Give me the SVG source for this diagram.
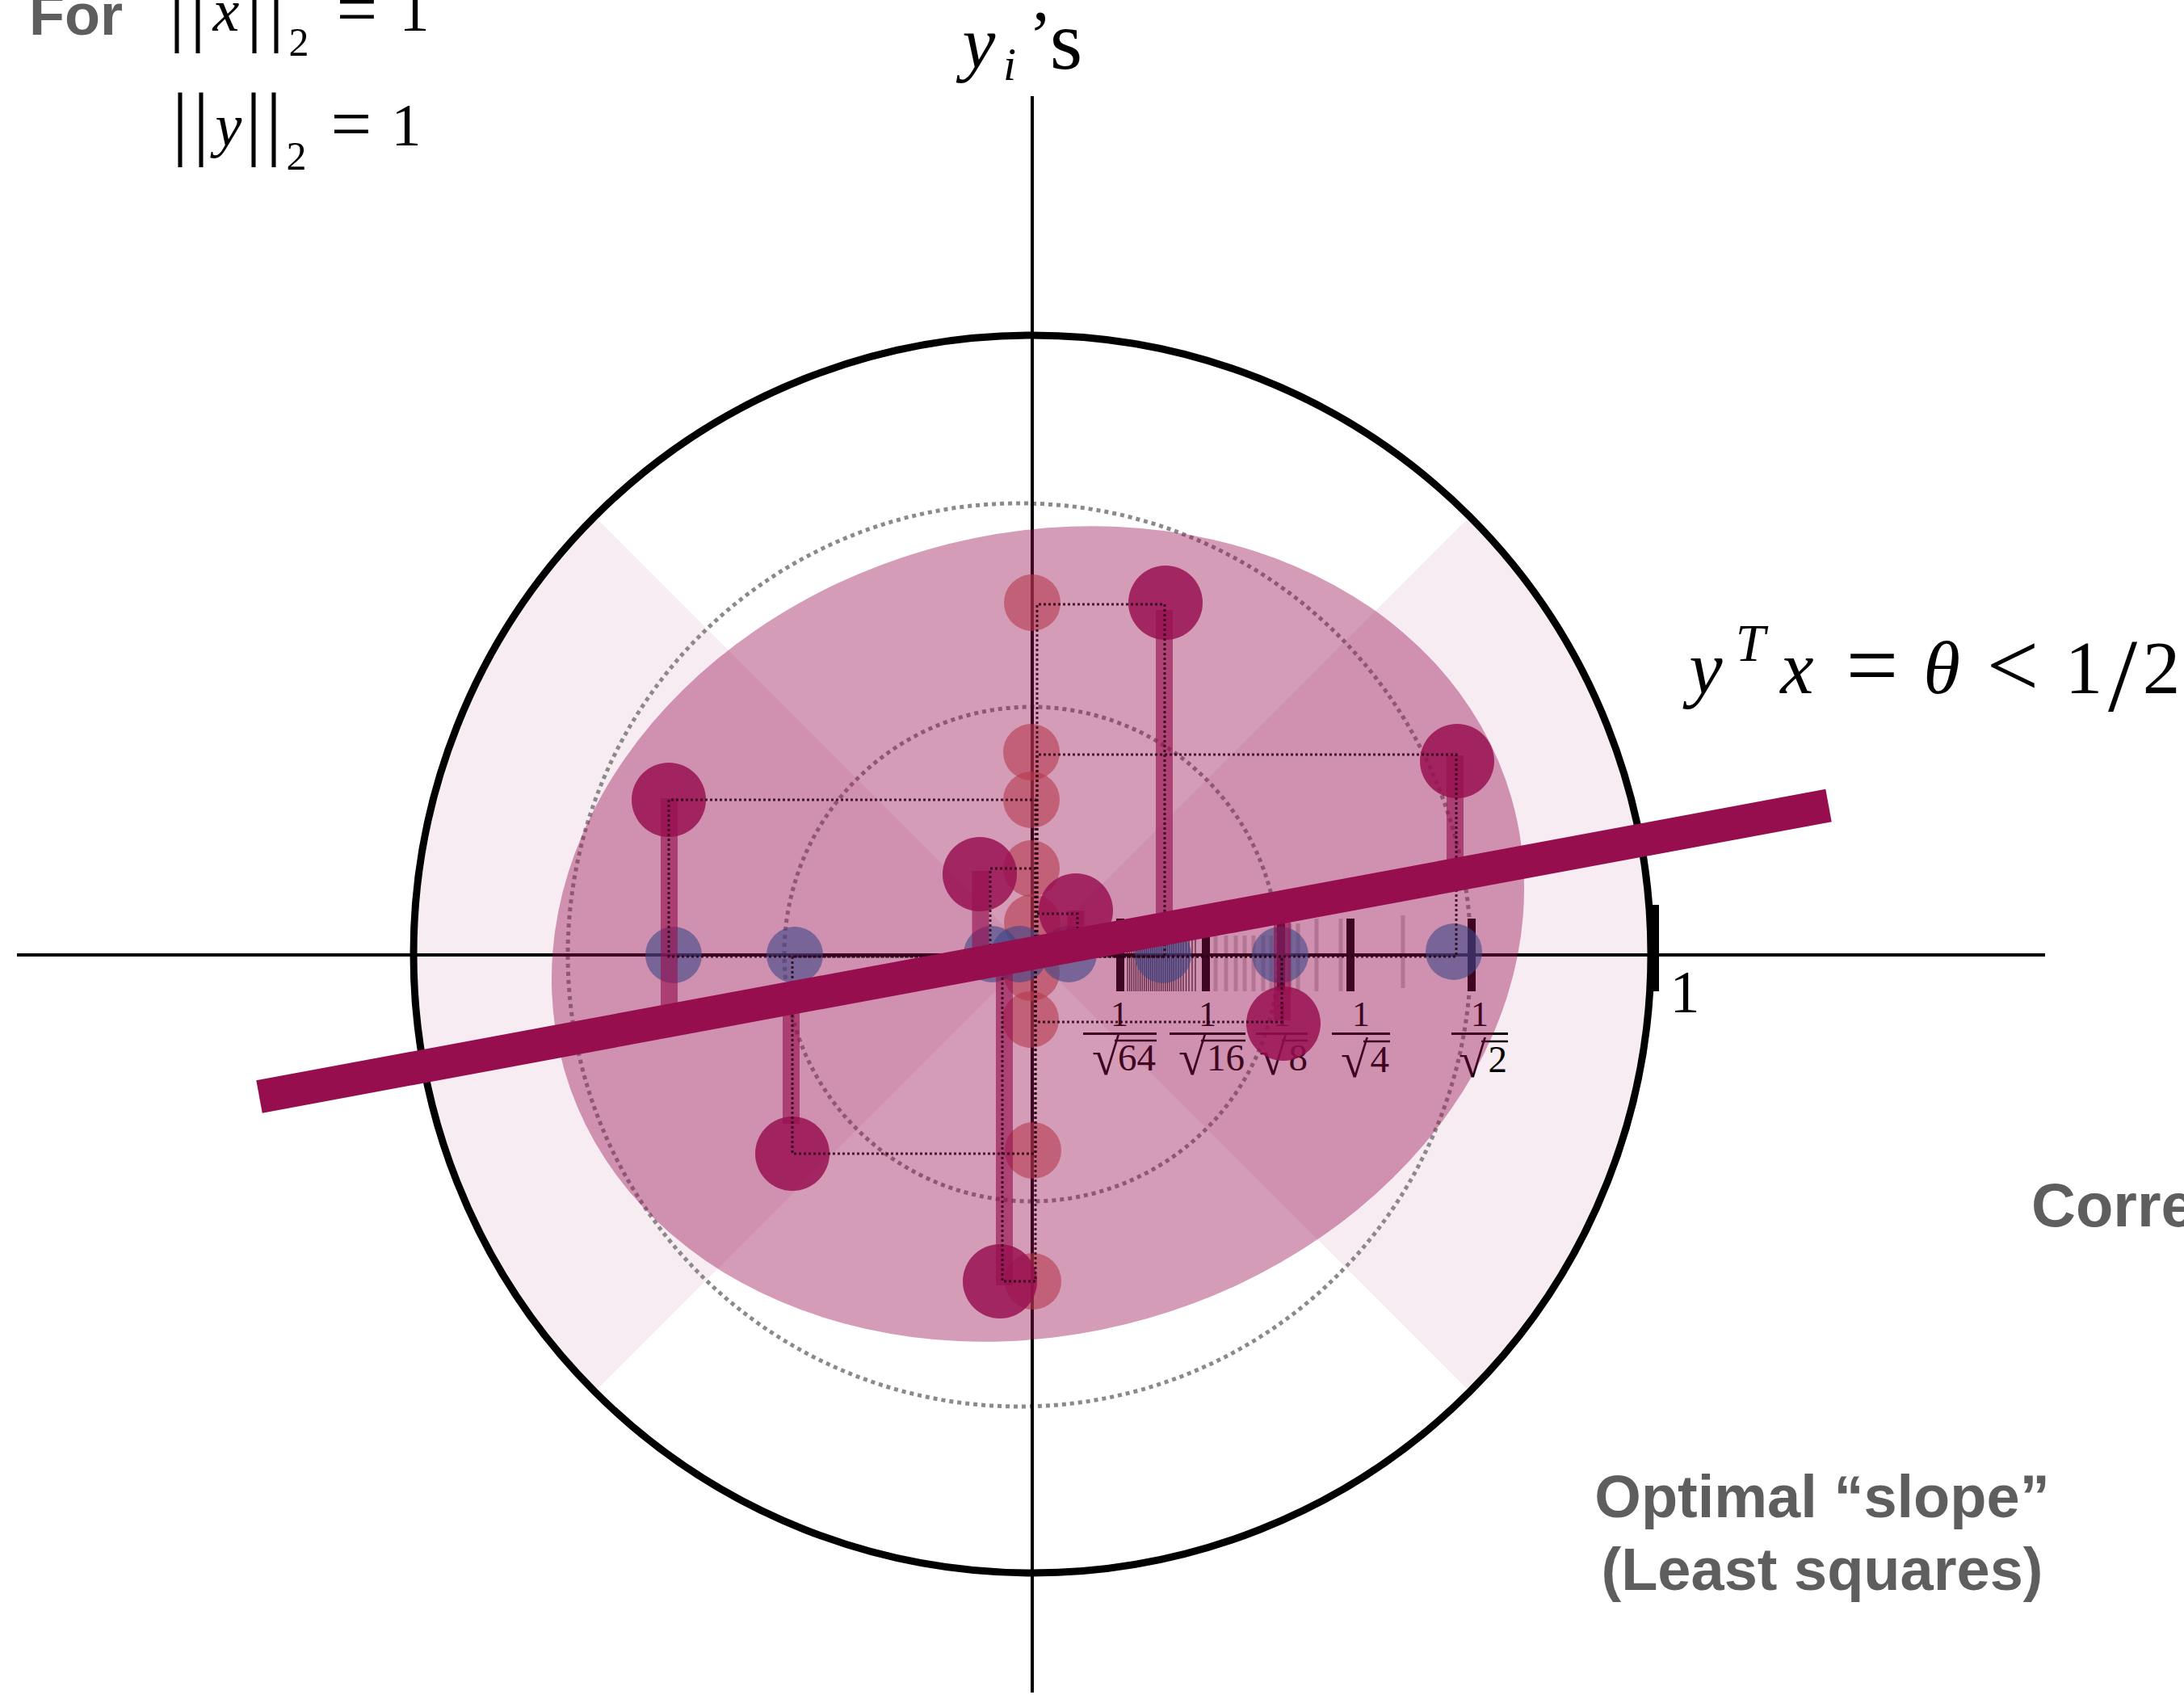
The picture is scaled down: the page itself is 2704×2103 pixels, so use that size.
<svg xmlns="http://www.w3.org/2000/svg" width="2704" height="2103" viewBox="0 0 2704 2103">
<defs>
<style>
.gray{font-family:"Liberation Sans",Arial,sans-serif;font-weight:bold;fill:#5e5e5e}
.m{font-family:"Liberation Serif","DejaVu Serif",serif;fill:#000}
.mi{font-family:"Liberation Serif","DejaVu Serif",serif;font-style:italic;fill:#000}
.ax{stroke:#000;stroke-width:4;fill:none}
.tk{stroke:#000;stroke-width:10}
.ftk{stroke:#000;stroke-width:5;stroke-opacity:0.2}
.thin{stroke:#000;stroke-width:1.3;stroke-opacity:0.8}
.dc{fill:none;stroke:#8a8a8a;stroke-width:5;stroke-dasharray:5 5}
.dr{fill:none;stroke:#2a0014;stroke-width:3;stroke-dasharray:3 3;stroke-opacity:0.85}
.red{fill:#b4384b;fill-opacity:0.6}
.blue{fill:#3e4687;fill-opacity:0.6}
.pt{fill:#970E4F;fill-opacity:0.83}
.stem{stroke:#970E4F;stroke-opacity:0.63;stroke-width:21}
.fr{font-family:"Liberation Serif","DejaVu Serif",serif;font-size:44px;fill:#000}
.dn{font-family:"Liberation Serif","DejaVu Serif",serif;font-size:47px;fill:#000}
.rad{font-family:"Liberation Serif","DejaVu Serif",serif;font-size:62px;fill:#000}
</style>
</defs>
<rect width="2704" height="2103" fill="#fff"/>

<g id="bowtie">
<path d="M1278,1181 L736.4,639.4 A766,766 0 0 0 736.4,1722.6 Z M1278,1181 L1819.6,1722.6 A766,766 0 0 0 1819.6,639.4 Z" fill="#970E4F" fill-opacity="0.078"/>
</g>

<g id="dotted-circles">
<circle cx="1262" cy="1182" r="559" class="dc"/>
<circle cx="1277" cy="1181" r="306" class="dc"/>
</g>

<g id="unit-circle">
<circle cx="1278" cy="1181" r="766" fill="none" stroke="#000" stroke-width="9"/>
</g>

<g id="axes">
<line x1="21" y1="1182" x2="2532" y2="1182" class="ax"/>
<line x1="1278" y1="119" x2="1278" y2="2095" class="ax"/>
</g>

<g id="ticks">
<g class="thin">
<line x1="1396" y1="1160" x2="1396" y2="1227"/><line x1="1398.6" y1="1160" x2="1398.6" y2="1227"/><line x1="1401.2" y1="1160" x2="1401.2" y2="1227"/><line x1="1403.8" y1="1160" x2="1403.8" y2="1227"/><line x1="1406.4" y1="1160" x2="1406.4" y2="1227"/><line x1="1409" y1="1160" x2="1409" y2="1227"/><line x1="1411.6" y1="1160" x2="1411.6" y2="1227"/><line x1="1414.2" y1="1160" x2="1414.2" y2="1227"/><line x1="1416.8" y1="1160" x2="1416.8" y2="1227"/><line x1="1419.4" y1="1160" x2="1419.4" y2="1227"/><line x1="1422" y1="1160" x2="1422" y2="1227"/><line x1="1424.6" y1="1160" x2="1424.6" y2="1227"/><line x1="1427.2" y1="1160" x2="1427.2" y2="1227"/><line x1="1429.8" y1="1160" x2="1429.8" y2="1227"/><line x1="1432.4" y1="1160" x2="1432.4" y2="1227"/><line x1="1435" y1="1160" x2="1435" y2="1227"/><line x1="1437.6" y1="1160" x2="1437.6" y2="1227"/><line x1="1440.2" y1="1160" x2="1440.2" y2="1227"/><line x1="1442.8" y1="1160" x2="1442.8" y2="1227"/><line x1="1445.4" y1="1160" x2="1445.4" y2="1227"/><line x1="1448" y1="1160" x2="1448" y2="1227"/><line x1="1450.6" y1="1160" x2="1450.6" y2="1227"/><line x1="1453.2" y1="1160" x2="1453.2" y2="1227"/><line x1="1456" y1="1160" x2="1456" y2="1227"/><line x1="1459" y1="1160" x2="1459" y2="1227"/><line x1="1462" y1="1160" x2="1462" y2="1227"/><line x1="1465" y1="1160" x2="1465" y2="1227"/><line x1="1468.5" y1="1160" x2="1468.5" y2="1227"/><line x1="1472" y1="1160" x2="1472" y2="1227"/><line x1="1476" y1="1160" x2="1476" y2="1227"/><line x1="1480" y1="1160" x2="1480" y2="1227"/>
</g>
<g class="ftk">
<line x1="1505" y1="1158" x2="1505" y2="1227"/><line x1="1518" y1="1158" x2="1518" y2="1227"/><line x1="1530" y1="1158" x2="1530" y2="1227"/><line x1="1541" y1="1158" x2="1541" y2="1227"/><line x1="1552" y1="1158" x2="1552" y2="1227"/><line x1="1564" y1="1158" x2="1564" y2="1227"/><line x1="1574" y1="1158" x2="1574" y2="1227"/><line x1="1597" y1="1143" x2="1597" y2="1227"/><line x1="1607" y1="1143" x2="1607" y2="1227"/><line x1="1630" y1="1137" x2="1630" y2="1227"/><line x1="1660" y1="1137" x2="1660" y2="1227"/><line x1="1737" y1="1133" x2="1737" y2="1223"/>
</g>
<line x1="1387" y1="1137" x2="1387" y2="1227" class="tk"/>
<line x1="1493" y1="1137" x2="1493" y2="1227" class="tk"/>
<line x1="1586" y1="1143" x2="1586" y2="1227" class="tk"/>
<line x1="1672" y1="1137" x2="1672" y2="1227" class="tk"/>
<line x1="1822" y1="1137" x2="1822" y2="1227" class="tk"/>
<line x1="2050" y1="1120" x2="2050" y2="1227" stroke="#000" stroke-width="8"/>
</g>

<g id="tick-labels">
<g id="lab-64">
<text x="1386" y="1270" class="fr" text-anchor="middle">1</text>
<line x1="1341" y1="1279.5" x2="1432" y2="1279.5" stroke="#000" stroke-width="3"/>
<text x="1352" y="1330" class="rad">√</text>
<line x1="1380" y1="1288" x2="1432" y2="1288" stroke="#000" stroke-width="2.5"/>
<text x="1431" y="1325" class="dn" text-anchor="end">64</text>
</g>
<g id="lab-16">
<text x="1495" y="1270" class="fr" text-anchor="middle">1</text>
<line x1="1448" y1="1279.5" x2="1542" y2="1279.5" stroke="#000" stroke-width="3"/>
<text x="1459" y="1330" class="rad">√</text>
<line x1="1487" y1="1288" x2="1542" y2="1288" stroke="#000" stroke-width="2.5"/>
<text x="1541" y="1325" class="dn" text-anchor="end">16</text>
</g>
<g id="lab-8">
<text x="1587" y="1270" class="fr" text-anchor="middle">1</text>
<line x1="1555" y1="1279.5" x2="1619" y2="1279.5" stroke="#000" stroke-width="3"/>
<text x="1559" y="1330" class="rad">√</text>
<line x1="1587" y1="1288" x2="1619" y2="1288" stroke="#000" stroke-width="2.5"/>
<text x="1619" y="1325" class="dn" text-anchor="end">8</text>
</g>
<g id="lab-4">
<text x="1685" y="1270" class="fr" text-anchor="middle">1</text>
<line x1="1649" y1="1279.5" x2="1721" y2="1279.5" stroke="#000" stroke-width="3"/>
<text x="1660" y="1333" class="rad">√</text>
<line x1="1688" y1="1289" x2="1721" y2="1289" stroke="#000" stroke-width="2.5"/>
<text x="1720" y="1327" class="dn" text-anchor="end">4</text>
</g>
<g id="lab-2">
<text x="1832" y="1270" class="fr" text-anchor="middle">1</text>
<line x1="1797" y1="1279.5" x2="1867" y2="1279.5" stroke="#000" stroke-width="3"/>
<text x="1806" y="1333" class="rad">√</text>
<line x1="1834" y1="1289" x2="1867" y2="1289" stroke="#000" stroke-width="2.5"/>
<text x="1866" y="1327" class="dn" text-anchor="end">2</text>
</g>
<text x="2086" y="1253" class="m" style="font-size:74px" text-anchor="middle">1</text>
</g>

<g id="ellipse">
<ellipse cx="1285" cy="1156" rx="610" ry="495" transform="rotate(-16 1285 1156)" fill="#970E4F" fill-opacity="0.41"/>
</g>

<g id="red-points">
<circle cx="1278" cy="746" r="35" class="red"/>
<circle cx="1277" cy="931" r="35" class="red"/>
<circle cx="1277" cy="990" r="35" class="red"/>
<circle cx="1277" cy="1075" r="35" class="red"/>
<circle cx="1278" cy="1142" r="35" class="red"/>
<circle cx="1277" cy="1204" r="35" class="red"/>
<circle cx="1276" cy="1262" r="35" class="red"/>
<circle cx="1279" cy="1424" r="35" class="red"/>
<circle cx="1279" cy="1586" r="35" class="red"/>
</g>

<g id="blue-points">
<circle cx="834" cy="1182" r="35" class="blue"/>
<circle cx="984" cy="1182" r="35" class="blue"/>
<circle cx="1228" cy="1181" r="35" class="blue"/>
<circle cx="1262" cy="1181" r="35" class="blue"/>
<circle cx="1323" cy="1181" r="35" class="blue"/>
<circle cx="1440" cy="1182" r="35" class="blue"/>
<circle cx="1585" cy="1182" r="35" class="blue"/>
<circle cx="1800" cy="1178" r="35" class="blue"/>
</g>

<g id="data-points">
<circle cx="1443" cy="746" r="46" class="pt"/>
<circle cx="1804" cy="942" r="46" class="pt"/>
<circle cx="828" cy="990" r="46" class="pt"/>
<circle cx="1213" cy="1082" r="46" class="pt"/>
<circle cx="1332" cy="1127" r="46" class="pt"/>
<circle cx="1589" cy="1267" r="46" class="pt"/>
<circle cx="981" cy="1428" r="46" class="pt"/>
<circle cx="1238" cy="1586" r="46" class="pt"/>
</g>

<g id="connectors">
<g id="residuals">
<line x1="1441.5" y1="755" x2="1441.5" y2="1150" class="stem"/>
<line x1="1801.5" y1="935" x2="1801.5" y2="1083" class="stem"/>
<line x1="828.5" y1="988" x2="828.5" y2="1263" class="stem"/>
<line x1="1214" y1="1078" x2="1214" y2="1192" class="stem"/>
<line x1="1332" y1="1127" x2="1332" y2="1170" class="stem"/>
<line x1="1587.5" y1="1122" x2="1587.5" y2="1263" class="stem"/>
<line x1="979.5" y1="1235" x2="979.5" y2="1391" class="stem"/>
<line x1="1243.5" y1="1187" x2="1243.5" y2="1591" class="stem"/>
</g>
<g id="projections">
<path d="M1284,1184 V748 H1442 V1184 Z" class="dr"/>
<path d="M1284,1184 V934 H1803 V1184 Z" class="dr"/>
<path d="M1282,1184 V990 H828 V1184 Z" class="dr"/>
<path d="M1282,1184 V1075 H1226 V1184 Z" class="dr"/>
<path d="M1283,1184 V1131 H1334 V1184 Z" class="dr"/>
<path d="M1282,1184 V1265 H1587 V1184 Z" class="dr"/>
<path d="M1282,1184 V1428 H981 V1184 Z" class="dr"/>
<path d="M1282,1184 V1586 H1241 V1184 Z" class="dr"/>
</g>
<g id="fit-line">
<line x1="321" y1="1357.5" x2="2264" y2="997" stroke="#970E4F" stroke-width="41"/>
</g>
</g>

<g id="labels">
<text x="36" y="43" class="gray" style="font-size:72px">For</text>
<g id="norm-x" style="font-size:74px">
<text x="219" y="44" class="m" style="font-size:102px" text-anchor="middle">|</text>
<text x="245" y="44" class="m" style="font-size:102px" text-anchor="middle">|</text>
<text x="280" y="38" class="mi" text-anchor="middle">x</text>
<text x="315" y="44" class="m" style="font-size:102px" text-anchor="middle">|</text>
<text x="342" y="44" class="m" style="font-size:102px" text-anchor="middle">|</text>
<text x="370" y="69" class="m" style="font-size:50px" text-anchor="middle">2</text>
<text x="442" y="42" class="m" style="font-size:90px" text-anchor="middle">=</text>
<text x="513" y="38" class="m" text-anchor="middle">1</text>
</g>
<g id="norm-y" style="font-size:74px">
<text x="223" y="185" class="m" style="font-size:102px" text-anchor="middle">|</text>
<text x="249" y="185" class="m" style="font-size:102px" text-anchor="middle">|</text>
<text x="283" y="180" class="mi" text-anchor="middle">y</text>
<text x="314" y="185" class="m" style="font-size:102px" text-anchor="middle">|</text>
<text x="339" y="185" class="m" style="font-size:102px" text-anchor="middle">|</text>
<text x="367" y="210" class="m" style="font-size:50px" text-anchor="middle">2</text>
<text x="435" y="184" class="m" style="font-size:90px" text-anchor="middle">=</text>
<text x="503" y="180" class="m" text-anchor="middle">1</text>
</g>
<g id="yi-label">
<text x="1212" y="84" class="mi" style="font-size:92px" text-anchor="middle">y</text>
<text x="1250" y="99" class="mi" style="font-size:58px" text-anchor="middle">i</text>
<text x="1288" y="73" class="m" style="font-size:86px" text-anchor="middle">’</text>
<text x="1320" y="85" class="m" style="font-size:104px" text-anchor="middle">s</text>
</g>
<g id="theta-label" style="font-size:93px">
<text x="2112" y="858" class="mi" text-anchor="middle">y</text>
<text x="2167" y="818" class="mi" style="font-size:66px" text-anchor="middle">T</text>
<text x="2225" y="858" class="mi" text-anchor="middle">x</text>
<text x="2318" y="862" class="m" style="font-size:115px" text-anchor="middle">=</text>
<text x="2404" y="858" class="mi" text-anchor="middle">θ</text>
<text x="2492" y="862" class="m" style="font-size:115px" text-anchor="middle">&lt;</text>
<text x="2580" y="858" class="m" text-anchor="middle">1</text>
<text x="2628" y="880" class="m" style="font-size:130px" text-anchor="middle">/</text>
<text x="2676" y="858" class="m" text-anchor="middle">2</text>
</g>
<text x="2515" y="1518" class="gray" style="font-size:76px">Corre</text>
<text x="2256" y="1878" class="gray" style="font-size:74px" text-anchor="middle">Optimal “slope”</text>
<text x="2256" y="1968" class="gray" style="font-size:74px" text-anchor="middle">(Least squares)</text>
</g>
</svg>
